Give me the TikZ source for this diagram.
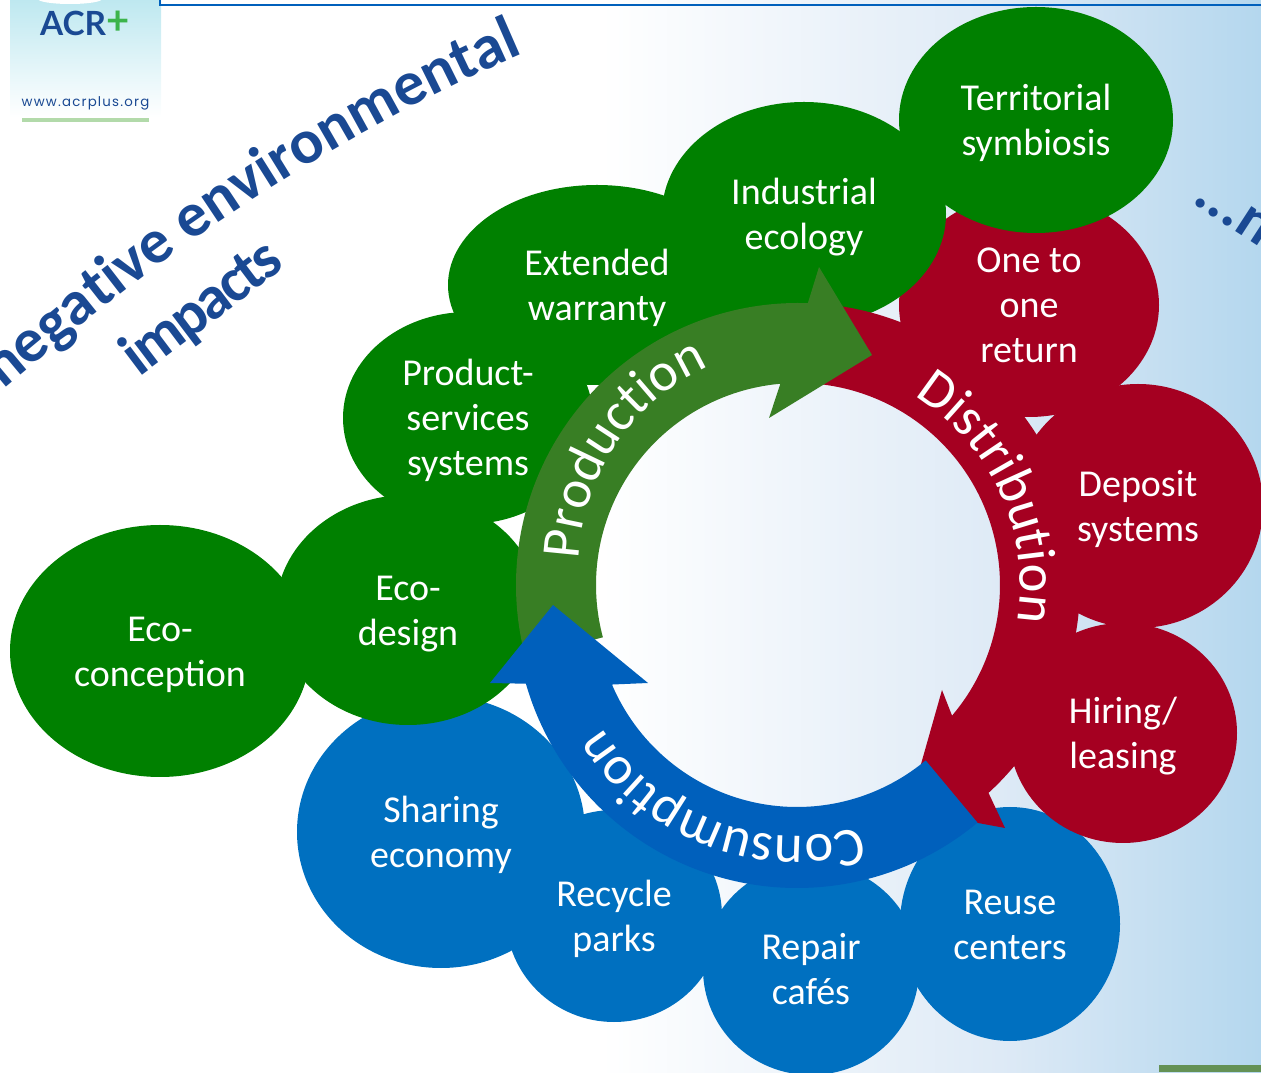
\documentclass[tikz,border=0pt]{standalone}
\usepackage{fontspec}
\setmainfont{Carlito}
\newfontfamily\logofont{Lato}
\newfontfamily\urlfont[LetterSpace=9]{Poppins}
\newfontfamily\tightfont[LetterSpace=-4.3]{Carlito}
\usetikzlibrary{shapes.geometric,decorations.text}
\definecolor{bubgreen}{RGB}{0,128,0}
\definecolor{bubred}{RGB}{165,0,33}
\definecolor{bubblue}{RGB}{0,112,192}
\definecolor{arrgreen}{RGB}{56,126,36}
\definecolor{arrblue}{RGB}{0,96,188}
\definecolor{headblue}{RGB}{26,73,147}
\definecolor{skymid}{RGB}{222,234,246}
\definecolor{skyend}{RGB}{180,215,238}
\definecolor{logocyan}{RGB}{190,232,240}
\definecolor{logogreen}{RGB}{60,180,75}
\definecolor{logobar}{RGB}{178,218,170}
\definecolor{photogreen}{RGB}{100,145,85}
\newcommand{\arrowfont}{\fontsize{41}{41}\selectfont\color{white}}
\newcommand{\slogantext}{\fontsize{47}{47}\selectfont\bfseries\color{headblue}}
\newcommand{\bubtop}{\rule{0pt}{24.5pt}}
\tikzset{
  bubble/.style n args={3}{shape=ellipse,fill=#1,text=white,align=center,
    minimum width=2*#2*0.75pt,minimum height=2*#3*0.75pt,inner sep=0pt,outer sep=0pt,
    font=\fontsize{28.5}{33.75}\selectfont,
    execute at end node={\rule[-5.7pt]{0pt}{0pt}}},
  slogan/.style={text=headblue,inner sep=0pt,font=\fontsize{46}{46}\selectfont\bfseries},
  arrowtext/.style={decorate,decoration={text along path,text align=center,text={#1}}}
}
\begin{document}
\begin{tikzpicture}[x=0.75pt,y=0.75pt]
\path[use as bounding box,clip] (0,0) rectangle (1261,1072);
\shade[left color=white,right color=skymid] (600,0) rectangle (1001,1072);
\shade[left color=skymid,right color=skyend] (1000,0) rectangle (1261,1072);
% logo
\shade[top color=logocyan,bottom color=white] (10,955) rectangle (161,1072);
\fill[white] (70,1073) ellipse (32 and 5);
\node[text=headblue,inner sep=0pt,font=\logofont\bfseries\fontsize{25}{25}\selectfont] (acr) at (73,1049) {ACR};
\node[text=logogreen,inner sep=0pt,font=\logofont\bfseries\fontsize{30}{30}\selectfont,right=0pt] (plus) at (acr.east) {+};
\node[text=headblue,inner sep=0pt,font=\urlfont\fontsize{10}{10}\selectfont] (url) at (85.5,969) {www.acrplus.org};
\fill[logobar] (22,950) rectangle (149,954);
\draw[color=arrblue,line width=1.5pt] (160,1072) -- (160,1067) -- (1261,1067);
\fill[photogreen] (1159,0) rectangle (1261,7);
% slogans
\path[decorate,decoration={text along path,text={|\slogantext|negative environmental}}] (3,682) .. controls (64,733) and (141.25,799) .. (238.75,863) .. controls (336.25,927) and (445,988) .. (560,1034);
\node[slogan,rotate=37,anchor=base] (impacts) at (213,750) {\tightfont\bfseries impacts};
\node[slogan,rotate=-33,anchor=west] (more) at (1199,882) {...n};
% consumption bubbles
\node[bubble={bubblue}{144}{136}] (sharing) at (441,240) {\bubtop Sharing\\economy};
\node[bubble={bubblue}{108}{106}] (recycle) at (614,156) {\bubtop Recycle\\parks};
\node[bubble={bubblue}{108}{106}] (repair) at (811,103) {\bubtop Repair\\cafés};
\node[bubble={bubblue}{110}{117}] (reuse) at (1010,148) {\bubtop Reuse\\centers};
% distribution bubbles
\node[bubble={bubred}{114}{110}] (hiring) at (1123,339) {\bubtop Hiring/\\leasing};
\node[bubble={bubred}{125}{122}] (deposit) at (1138,566) {\bubtop Deposit\\systems};
\node[bubble={bubred}{130}{112}] (onetoone) at (1029,767) {\bubtop One to\\one\\return};
% production bubbles
\node[bubble={bubgreen}{150}{126}] (concept) at (160,421) {\bubtop Eco-\\conception};
\node[bubble={bubgreen}{132}{115}] (ecodesign) at (408,462) {\bubtop Eco-\\design};
\node[bubble={bubgreen}{149}{100}] (warranty) at (597,787) {\bubtop Extended\\warranty};
\node[bubble={bubgreen}{125}{106}] (pss) at (468,654) {\bubtop Product-\\services\\systems};
\node[bubble={bubgreen}{142}{112}] (industrial) at (804,858) {\bubtop Industrial\\ecology};
\node[bubble={bubgreen}{137}{113}] (symbiosis) at (1036,952) {\bubtop Territorial\\symbiosis};
% the three arrows
\coordinate (ringcenter) at (798,487);
\coordinate (lowcenter) at (797,466);
\coordinate (textcenter) at (798,505);
\fill[bubred] ([shift={(85:282)}]ringcenter) arc (85:-47.5:282) -- (1005,244) -- (908,262) -- (942,382) -- ([shift={(-40.3:202)}]ringcenter) arc (-40.3:85:202) -- cycle;
\fill[arrgreen] ([shift={(195:282)}]ringcenter) arc (195:88:282) -- (819,805) -- (872,717) -- (769,654) -- ([shift={(95:202)}]ringcenter) arc (95:195:202) -- cycle;
\fill[arrblue] ([shift={(-50.2:282)}]lowcenter) arc (-50.2:-164:282) -- (490,389) -- (553,467) -- (648,389) -- ([shift={(-157:201)}]lowcenter) arc (-157:-50.2:201) -- cycle;
\path[arrowtext={|\arrowfont|Production}] ([shift={(193.5:219)}]textcenter) arc (193.5:98.5:219);
\path[arrowtext={|\arrowfont|Distribution}] ([shift={(80:222)}]ringcenter) arc (80:-31:222);
\path[arrowtext={|\arrowfont|Consumption}] ([shift={(-61:230)}]lowcenter) arc (-61:-161:230);
\end{tikzpicture}
\end{document}
